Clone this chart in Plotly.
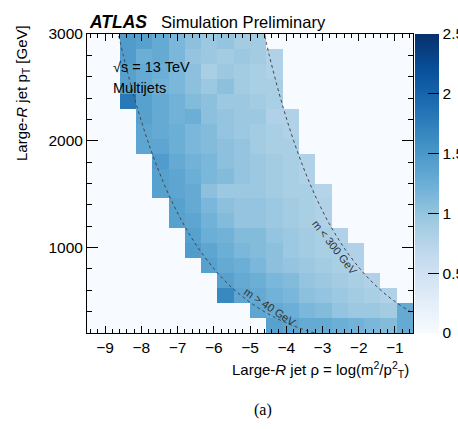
import math
import plotly.graph_objects as go

# ---------------- data ----------------
# bin edges / centres
rho_lo, rho_hi, n_rho = -9.5, -0.5, 20
pt_lo, pt_hi, n_pt = 200, 3000, 20
rho_centres = [rho_lo + (i + 0.5) * (rho_hi - rho_lo) / n_rho for i in range(n_rho)]
pt_centres_top_down = [pt_hi - (j + 0.5) * (pt_hi - pt_lo) / n_pt for j in range(n_pt)]

# cell values, rows listed from the highest pT bin (top) to the lowest (bottom)
z_rows = [
    [0, 0, 1.45, 1.40, 1.30, 1.15, 1.05, 0.95, 1.00, 0.90, 0.90, 0, 0, 0, 0, 0, 0, 0, 0, 0],
    [0, 0, 1.45, 1.25, 1.30, 1.15, 1.00, 0.95, 0.90, 0.95, 0.90, 0.80, 0, 0, 0, 0, 0, 0, 0, 0],
    [0, 0, 1.40, 1.30, 1.25, 1.15, 1.05, 0.85, 0.95, 0.90, 0.85, 0.80, 0, 0, 0, 0, 0, 0, 0, 0],
    [0, 0, 1.40, 1.30, 1.20, 1.15, 1.05, 0.95, 1.05, 0.90, 0.85, 0.85, 0, 0, 0, 0, 0, 0, 0, 0],
    [0, 0, 1.80, 1.40, 1.30, 1.20, 1.10, 1.05, 0.95, 0.95, 0.90, 0.85, 0, 0, 0, 0, 0, 0, 0, 0],
    [0, 0, 0, 1.40, 1.30, 1.20, 1.25, 1.05, 1.00, 0.95, 0.95, 0.80, 0.80, 0, 0, 0, 0, 0, 0, 0],
    [0, 0, 0, 1.35, 1.30, 1.25, 1.15, 1.10, 1.00, 0.95, 0.90, 0.85, 0.80, 0, 0, 0, 0, 0, 0, 0],
    [0, 0, 0, 1.35, 1.35, 1.25, 1.15, 1.10, 1.05, 1.00, 0.90, 0.85, 0.85, 0, 0, 0, 0, 0, 0, 0],
    [0, 0, 0, 0, 1.45, 1.30, 1.20, 1.15, 1.05, 1.00, 0.95, 0.90, 0.85, 0.80, 0, 0, 0, 0, 0, 0],
    [0, 0, 0, 0, 1.40, 1.35, 1.25, 1.15, 1.10, 1.00, 0.95, 0.90, 0.85, 0.80, 0, 0, 0, 0, 0, 0],
    [0, 0, 0, 0, 1.40, 1.35, 1.30, 1.05, 0.95, 0.95, 0.95, 0.90, 0.85, 0.85, 0.75, 0, 0, 0, 0, 0],
    [0, 0, 0, 0, 0, 1.40, 1.30, 1.15, 1.05, 1.00, 1.00, 0.95, 0.90, 0.85, 0.80, 0, 0, 0, 0, 0],
    [0, 0, 0, 0, 0, 1.40, 1.35, 1.20, 1.10, 1.00, 1.00, 0.95, 0.90, 0.85, 0.80, 0, 0, 0, 0, 0],
    [0, 0, 0, 0, 0, 0, 1.40, 1.25, 1.20, 1.10, 1.10, 1.00, 0.95, 0.90, 0.85, 0.80, 0, 0, 0, 0],
    [0, 0, 0, 0, 0, 0, 1.45, 1.35, 1.25, 1.15, 1.10, 1.05, 0.95, 0.90, 0.85, 0.85, 0.80, 0, 0, 0],
    [0, 0, 0, 0, 0, 0, 0, 1.40, 1.30, 1.25, 1.15, 1.05, 1.00, 0.95, 0.90, 0.85, 0.80, 0, 0, 0],
    [0, 0, 0, 0, 0, 0, 0, 0, 1.40, 1.30, 1.25, 1.15, 1.10, 1.00, 0.95, 0.90, 0.85, 0.80, 0, 0],
    [0, 0, 0, 0, 0, 0, 0, 0, 1.65, 1.35, 1.30, 1.20, 1.15, 1.05, 1.00, 0.95, 0.90, 0.85, 0.80, 0],
    [0, 0, 0, 0, 0, 0, 0, 0, 0, 0, 1.35, 1.30, 1.25, 1.15, 1.10, 1.00, 0.95, 0.95, 0.90, 1.30],
    [0, 0, 0, 0, 0, 0, 0, 0, 0, 0, 0, 1.40, 1.35, 1.30, 1.30, 1.25, 1.20, 1.15, 1.10, 1.30],
]

# mass contours (GeV) and pT sample points for the dashed lines
mass_low, mass_high = 40, 300
contour_pt = [200, 250, 300, 350, 400, 500, 600, 700, 800, 1000, 1200, 1400,
              1600, 1800, 2000, 2200, 2400, 2600, 2800, 3000]

x_ticks = [-9, -8, -7, -6, -5, -4, -3, -2, -1]
y_ticks = [1000, 2000, 3000]
cbar_ticks = [0, 0.5, 1, 1.5, 2, 2.5]

# ---------------- figure ----------------
FONT = "Liberation Sans, Arial, Helvetica, sans-serif"

fig = go.Figure()
fig.add_trace(go.Heatmap(
    x=rho_centres, y=pt_centres_top_down, z=z_rows,
    zmin=0, zmax=2.5, colorscale="Blues",
    colorbar=dict(
        x=1.006, xanchor="left", xpad=0, ypad=0,
        y=0.5, yanchor="middle", len=1, lenmode="fraction",
        thickness=24, outlinewidth=0,
        tickvals=cbar_ticks,
        ticks="inside", ticklen=11, tickwidth=1, tickcolor="black",
        tickfont=dict(family=FONT, size=15.5, color="black"),
    ),
    showscale=True, hoverinfo="skip",
))

for m in (mass_low, mass_high):
    xs = [math.log(m * m / (p * p)) for p in contour_pt]
    fig.add_trace(go.Scatter(
        x=xs, y=contour_pt, mode="lines",
        line=dict(color="#444444", width=1, dash="3px,3px", shape="spline"),
        showlegend=False, hoverinfo="skip",
    ))

fig.update_layout(
    width=458, height=429,
    margin=dict(l=87, r=45, t=34, b=96, autoexpand=False),
    paper_bgcolor="white", plot_bgcolor="white",
    font=dict(family=FONT, color="black"),
    showlegend=False,
)

fig.update_xaxes(
    range=[rho_lo, rho_hi], tickvals=x_ticks,
    ticks="inside", ticklen=7, tickwidth=1, tickcolor="black",
    minor=dict(ticks="inside", ticklen=4, dtick=0.2, tick0=-9, tickcolor="black"),
    showline=True, linecolor="black", linewidth=1, mirror="allticks",
    showgrid=False, zeroline=False,
    tickfont=dict(family=FONT, size=15.5, color="black"),
)
fig.update_yaxes(
    range=[pt_lo, pt_hi], tickvals=y_ticks,
    ticks="inside", ticklen=11, tickwidth=1, tickcolor="black",
    minor=dict(ticks="inside", ticklen=5, dtick=200, tick0=0, tickcolor="black"),
    showline=True, linecolor="black", linewidth=1, mirror="allticks",
    showgrid=False, zeroline=False,
    tickfont=dict(family=FONT, size=15.5, color="black"),
)

W, T = 326.0, 299.0
def px(xp):
    return (xp - 87) / W
def py(yp):
    return (333 - yp) / T

ann = [
    dict(text="<b><i>ATLAS</i></b>", x=px(87), y=py(22), xanchor="left", yanchor="middle",
         font=dict(size=17.5)),
    dict(text="Simulation Preliminary", x=px(159), y=py(22), xanchor="left", yanchor="middle",
         font=dict(size=16.5)),
    dict(text="\u221as = 13 TeV", x=px(111), y=py(67), xanchor="left", yanchor="middle",
         font=dict(size=14.5)),
    dict(text="Multijets", x=px(111), y=py(88), xanchor="left", yanchor="middle",
         font=dict(size=14.5)),
    dict(text="Large-<i>R</i> jet \u03c1 = log(m<sup>2</sup>/p<sup>2</sup><sub>T</sub>)",
         x=px(230), y=py(369), xanchor="left", yanchor="middle", font=dict(size=15)),
    dict(text="Large-<i>R</i> jet p<sub>T</sub> [GeV]", x=px(22), y=py(93),
         xanchor="center", yanchor="middle", textangle=-90, font=dict(size=15)),
    dict(text="(a)", x=px(263), y=py(410), xanchor="center", yanchor="middle",
         font=dict(size=16, family="Liberation Serif, Times New Roman, serif")),
]
for a in ann:
    a.update(xref="paper", yref="paper", showarrow=False)
    fig.add_annotation(**a)

# contour labels in data coordinates
fig.add_annotation(text="m > 40 GeV", x=-4.45, y=440, xref="x", yref="y",
                   showarrow=False, textangle=34, font=dict(size=11, color="#333333"))
fig.add_annotation(text="m < 300 GeV", x=-2.64, y=1000, xref="x", yref="y",
                   showarrow=False, textangle=52, font=dict(size=11, color="#333333"))

fig.write_html("out.html")
